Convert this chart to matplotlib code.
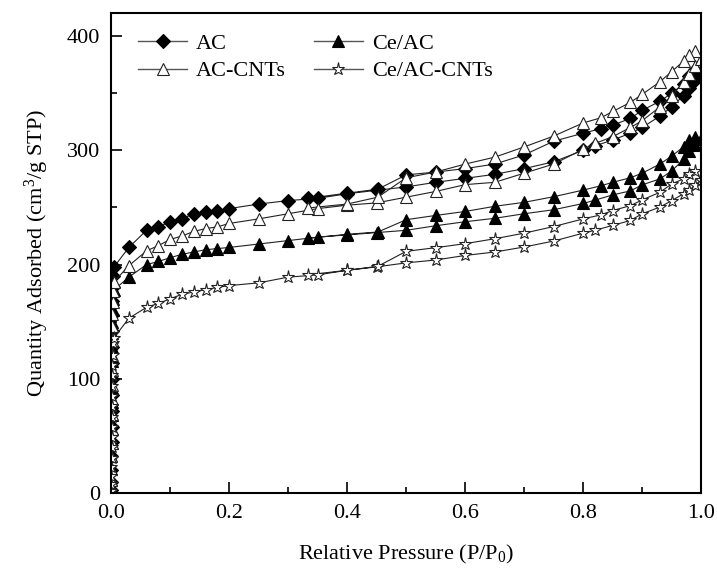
import matplotlib
matplotlib.use("Agg")
import matplotlib.pyplot as plt
from matplotlib.ticker import MultipleLocator, FormatStrFormatter

plt.rcParams['font.family'] = ['Liberation Serif', 'DejaVu Serif']
plt.rcParams['font.serif'] = ['Liberation Serif']
plt.rcParams['mathtext.fontset'] = 'custom'
plt.rcParams['mathtext.rm'] = 'Liberation Serif'
plt.rcParams['mathtext.it'] = 'Liberation Serif:italic'

# --- data: adsorption branch (low -> high P/P0), then desorption branch (high -> low) ---
low_x = [0.0003, 0.0004, 0.0005, 0.0006, 0.0007, 0.0008, 0.0009, 0.001, 0.0011,
         0.0012, 0.0014, 0.0016, 0.0018, 0.002, 0.0025, 0.003, 0.005]
ads_x = [0.03, 0.06, 0.08, 0.10, 0.12, 0.14, 0.16, 0.18, 0.20, 0.25, 0.30, 0.35,
         0.40, 0.45, 0.50, 0.55, 0.60, 0.65, 0.70, 0.75, 0.80, 0.82, 0.85, 0.88,
         0.90, 0.93, 0.95, 0.97, 0.98, 0.99, 1.0]
des_x = [0.99, 0.98, 0.97, 0.95, 0.93, 0.90, 0.88, 0.85, 0.83, 0.80, 0.75, 0.70,
         0.65, 0.60, 0.55, 0.50, 0.452, 0.40, 0.333]

ac_low = [3, 10, 20, 32, 45, 58, 72, 86, 100, 114, 128, 142, 156, 168, 180, 190, 198]
ac_ads = [215, 230, 233, 237.5, 240, 244.5, 246, 247, 249, 253, 256, 258,
          262, 265, 268, 272, 275.5, 279, 284, 290, 300, 304, 309, 315,
          320, 330, 338, 348, 355, 362, 368]
ac_des = [370, 365, 358, 350, 343, 335, 328, 322, 319, 315, 308, 296,
          288, 284, 281, 278.5, 266, 262.5, 258]

ceac_low = [3, 11, 21, 32, 44, 56, 68, 80, 92, 104, 116, 128, 140, 150, 160, 170, 178]
ceac_ads = [189, 200, 202.7, 206, 209, 211, 213, 214, 215, 218, 221, 224,
            226, 228, 230, 234, 237.5, 240.5, 244.5, 248, 253.5, 256.4, 261, 264.5,
            269.8, 275, 282, 292, 299, 305, 310]
ceac_des = [312, 309, 303, 295, 288, 280, 276, 272, 269, 265.2, 259.4, 254.5,
            251, 246.5, 243, 239.3, 228.5, 226.5, 223]

accnt_low = [3, 11, 21, 32, 44, 56, 69, 82, 95, 108, 121, 134, 146, 157, 167, 177, 185]
accnt_ads = [199, 212, 216.6, 222, 225, 229, 231.5, 233, 236, 240, 244.5, 249,
             252, 254, 259, 264, 270, 272, 280, 288, 301, 306, 312, 320,
             326, 338, 348, 360, 367, 374, 380]
accnt_des = [386.7, 383.8, 378, 369, 360, 349, 342, 334, 328.5, 324, 312.5, 303,
             294, 288, 281, 276, 259, 253, 249.5]

ceaccnt_low = [2, 8, 15, 23, 31, 40, 49, 58, 67, 76, 85, 94, 103, 112, 121, 131, 136]
ceaccnt_ads = [153, 162.6, 166, 170, 174, 176, 178, 180, 181.6, 184, 189, 191,
               195, 198, 201.5, 204, 208, 211, 215.4, 220.6, 227.5, 230, 234.3, 238.6,
               244.5, 250.3, 256, 262, 265, 270, 274]
ceaccnt_des = [282, 279, 275, 270.6, 263.3, 256.6, 251.6, 247.3, 243.5, 240, 233.3, 227.5,
               222.6, 218.3, 214.8, 211.6, 198.5, 195, 191]

labels = ['AC', 'Ce/AC', 'AC-CNTs', 'Ce/AC-CNTs']
series = [(ac_low, ac_ads, ac_des), (ceac_low, ceac_ads, ceac_des),
          (accnt_low, accnt_ads, accnt_des), (ceaccnt_low, ceaccnt_ads, ceaccnt_des)]
styles = [dict(marker='D', ms=7, mfc='black', mec='black'),
          dict(marker='^', ms=8, mfc='black', mec='black'),
          dict(marker='^', ms=8, mfc='white', mec='#222222'),
          dict(marker='*', ms=9.5, mfc='white', mec='#222222')]

fig = plt.figure(figsize=(7.17, 5.76), dpi=100)
ax = fig.add_axes([0.155, 0.144, 0.823, 0.833])

xs = low_x + ads_x + des_x
for (lo, ad, de), st in zip(series, styles):
    ax.plot(xs, lo + ad + de, color='#222222', lw=0.8, mew=0.8, **st)

# legend proxies (gray lines)
handles = []
for st, lab in zip(styles, labels):
    h, = ax.plot([], [], color='#555555', lw=1.0, mew=0.8, label=lab, **st)
    handles.append(h)
order = [0, 2, 1, 3]
ax.legend([handles[i] for i in order], [labels[i] for i in order], ncol=2,
          frameon=False, loc='upper left', bbox_to_anchor=(0.02, 0.99),
          prop={'family': 'Liberation Serif', 'size': 16},
          handlelength=2.2, handletextpad=0.4,
          columnspacing=1.25, labelspacing=0.3, borderaxespad=0.3)

ax.set_xlim(0, 1.0)
ax.set_ylim(0, 420)
ax.xaxis.set_major_locator(MultipleLocator(0.2))
ax.xaxis.set_minor_locator(MultipleLocator(0.1))
ax.yaxis.set_major_locator(MultipleLocator(100))
ax.yaxis.set_minor_locator(MultipleLocator(50))
ax.xaxis.set_major_formatter(FormatStrFormatter('%.1f'))
ax.tick_params(which='both', direction='in', top=False, right=False, width=1.2,
               labelsize=16, pad=8)
ax.tick_params(which='major', length=8)
ax.tick_params(which='minor', length=4.5)
for s in ax.spines.values():
    s.set_linewidth(1.5)

ax.set_xlabel('Relative Pressure (P/P$_0$)', fontsize=16, labelpad=14)
ax.set_ylabel('Quantity Adsorbed (cm$^3$/g STP)', fontsize=16, labelpad=11)

fig.savefig('out.png', dpi=100)
